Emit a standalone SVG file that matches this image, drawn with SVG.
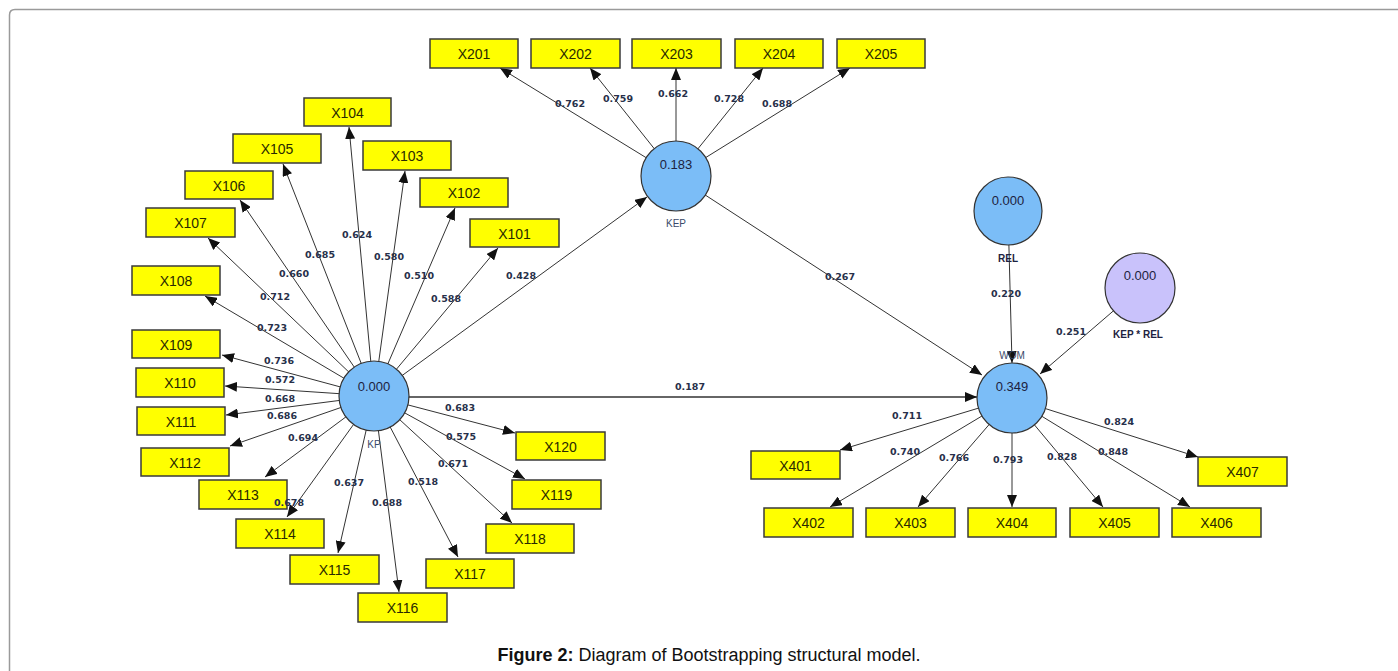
<svg xmlns="http://www.w3.org/2000/svg" width="1398" height="671" viewBox="0 0 1398 671">
<defs>
<marker id="ah" markerUnits="userSpaceOnUse" markerWidth="12" markerHeight="10" refX="12" refY="5" orient="auto">
<path d="M0,0 L12,5 L0,10 z" fill="#111"/>
</marker>
<style>
.box{fill:#ffff00;stroke:#3a3a3a;stroke-width:1.5}
.bt{font-family:"Liberation Sans",Arial,sans-serif;font-size:14px;fill:#2a2a00;text-anchor:middle}
.ln{stroke:#333;stroke-width:1;fill:none;marker-end:url(#ah)}
.lb{font-family:"DejaVu Sans","Liberation Sans",sans-serif;font-size:9.5px;font-weight:bold;fill:#27304a;text-anchor:middle}
.cir{fill:#7bbdf7;stroke:#333;stroke-width:1.2}
.cp{fill:#c9c2fb;stroke:#333;stroke-width:1.2}
.cv{font-family:"Liberation Sans",Arial,sans-serif;font-size:13px;fill:#1d2240;text-anchor:middle}
.cn{font-family:"Liberation Sans",Arial,sans-serif;font-size:10px;fill:#3a4a6a;text-anchor:middle}
.cnb{font-family:"Liberation Sans",Arial,sans-serif;font-size:10px;font-weight:bold;fill:#1d2240;text-anchor:middle}
</style>
</defs>
<rect width="1398" height="671" fill="#fff"/>
<path d="M9.5,671 L9.5,15 Q9.5,9.5 15,9.5 L1398,9.5" fill="none" stroke="#9a9a9a" stroke-width="1.5"/>

<g id="connectors">
<line class="ln" x1="374" y1="396" x2="349" y2="127"/>
<line class="ln" x1="374" y1="396" x2="283" y2="164"/>
<line class="ln" x1="374" y1="396" x2="405" y2="171"/>
<line class="ln" x1="374" y1="396" x2="240" y2="200"/>
<line class="ln" x1="374" y1="396" x2="455" y2="208"/>
<line class="ln" x1="374" y1="396" x2="208" y2="238"/>
<line class="ln" x1="374" y1="396" x2="498" y2="248"/>
<line class="ln" x1="374" y1="396" x2="205" y2="296"/>
<line class="ln" x1="374" y1="396" x2="222" y2="355"/>
<line class="ln" x1="374" y1="396" x2="225" y2="386"/>
<line class="ln" x1="374" y1="396" x2="226" y2="415"/>
<line class="ln" x1="374" y1="396" x2="230" y2="446"/>
<line class="ln" x1="374" y1="396" x2="265" y2="477"/>
<line class="ln" x1="374" y1="396" x2="287" y2="517"/>
<line class="ln" x1="374" y1="396" x2="338" y2="553"/>
<line class="ln" x1="374" y1="396" x2="399" y2="592"/>
<line class="ln" x1="374" y1="396" x2="458" y2="557"/>
<line class="ln" x1="374" y1="396" x2="512" y2="523"/>
<line class="ln" x1="374" y1="396" x2="525" y2="479"/>
<line class="ln" x1="374" y1="396" x2="515" y2="433"/>
<line class="ln" x1="676" y1="176" x2="500" y2="68"/>
<line class="ln" x1="676" y1="176" x2="590" y2="68"/>
<line class="ln" x1="676" y1="176" x2="676" y2="68"/>
<line class="ln" x1="676" y1="176" x2="763" y2="68"/>
<line class="ln" x1="676" y1="176" x2="850" y2="68"/>
<line class="ln" x1="374" y1="396" x2="647" y2="197"/>
<line class="ln" x1="676" y1="176" x2="982" y2="375"/>
<line class="ln" x1="374" y1="397" x2="977" y2="397" style="stroke-width:1.5"/>
<line class="ln" x1="1008" y1="211" x2="1012" y2="363"/>
<line class="ln" x1="1140" y1="288" x2="1040" y2="374"/>
<line class="ln" x1="1012" y1="398" x2="840" y2="450"/>
<line class="ln" x1="1012" y1="398" x2="830" y2="507"/>
<line class="ln" x1="1012" y1="398" x2="918" y2="507"/>
<line class="ln" x1="1012" y1="398" x2="1012" y2="507"/>
<line class="ln" x1="1012" y1="398" x2="1103" y2="507"/>
<line class="ln" x1="1012" y1="398" x2="1190" y2="507"/>
<line class="ln" x1="1012" y1="398" x2="1198" y2="457"/>
</g>

<g id="KP"><circle class="cir" cx="374" cy="396" r="35"/><text class="cv" x="374" y="391">0.000</text><text class="cn" x="374" y="448">KP</text></g>
<g id="KEP"><circle class="cir" cx="676" cy="176" r="35"/><text class="cv" x="676" y="169">0.183</text><text class="cn" x="676" y="227">KEP</text></g>
<g id="WOM"><circle class="cir" cx="1012" cy="398" r="35"/><text class="cv" x="1012" y="391">0.349</text><text class="cn" x="1012" y="359">WOM</text></g>
<g id="REL"><circle class="cir" cx="1008" cy="211" r="34"/><text class="cv" x="1008" y="205">0.000</text><text class="cnb" x="1008" y="262">REL</text></g>
<g id="KEPxREL"><circle class="cp" cx="1140" cy="288" r="35"/><text class="cv" x="1140" y="280">0.000</text><text class="cnb" x="1138" y="338">KEP * REL</text></g>

<g id="X101"><rect class="box" x="470" y="219" width="89" height="28"/><text class="bt" x="514.5" y="239">X101</text></g>
<g id="X102"><rect class="box" x="420" y="178" width="88" height="29"/><text class="bt" x="464" y="198">X102</text></g>
<g id="X103"><rect class="box" x="363" y="141" width="88" height="29"/><text class="bt" x="407" y="161">X103</text></g>
<g id="X104"><rect class="box" x="304" y="98" width="87" height="28"/><text class="bt" x="347.5" y="118">X104</text></g>
<g id="X105"><rect class="box" x="233" y="134" width="88" height="29"/><text class="bt" x="277" y="154">X105</text></g>
<g id="X106"><rect class="box" x="185" y="171" width="88" height="28"/><text class="bt" x="229" y="191">X106</text></g>
<g id="X107"><rect class="box" x="146" y="208" width="89" height="29"/><text class="bt" x="190.5" y="228">X107</text></g>
<g id="X108"><rect class="box" x="132" y="266" width="88" height="29"/><text class="bt" x="176" y="286">X108</text></g>
<g id="X109"><rect class="box" x="132" y="330" width="88" height="28"/><text class="bt" x="176" y="350">X109</text></g>
<g id="X110"><rect class="box" x="136" y="368" width="88" height="29"/><text class="bt" x="180" y="388">X110</text></g>
<g id="X111"><rect class="box" x="137" y="407" width="88" height="28"/><text class="bt" x="181" y="427">X111</text></g>
<g id="X112"><rect class="box" x="141" y="448" width="88" height="28"/><text class="bt" x="185" y="468">X112</text></g>
<g id="X113"><rect class="box" x="199" y="480" width="88" height="29"/><text class="bt" x="243" y="500">X113</text></g>
<g id="X114"><rect class="box" x="236" y="519" width="88" height="29"/><text class="bt" x="280" y="539">X114</text></g>
<g id="X115"><rect class="box" x="290" y="555" width="89" height="29"/><text class="bt" x="334.5" y="575">X115</text></g>
<g id="X116"><rect class="box" x="358" y="593" width="89" height="29"/><text class="bt" x="402.5" y="613">X116</text></g>
<g id="X117"><rect class="box" x="426" y="559" width="88" height="29"/><text class="bt" x="470" y="579">X117</text></g>
<g id="X118"><rect class="box" x="486" y="524" width="88" height="29"/><text class="bt" x="530" y="544">X118</text></g>
<g id="X119"><rect class="box" x="512" y="480" width="89" height="29"/><text class="bt" x="556.5" y="500">X119</text></g>
<g id="X120"><rect class="box" x="516" y="432" width="89" height="28"/><text class="bt" x="560.5" y="452">X120</text></g>

<g id="X201"><rect class="box" x="430" y="39" width="88" height="29"/><text class="bt" x="474" y="59">X201</text></g>
<g id="X202"><rect class="box" x="531" y="39" width="89" height="29"/><text class="bt" x="575.5" y="59">X202</text></g>
<g id="X203"><rect class="box" x="632" y="39" width="89" height="29"/><text class="bt" x="676.5" y="59">X203</text></g>
<g id="X204"><rect class="box" x="735" y="39" width="88" height="29"/><text class="bt" x="779" y="59">X204</text></g>
<g id="X205"><rect class="box" x="837" y="39" width="88" height="29"/><text class="bt" x="881" y="59">X205</text></g>

<g id="X401"><rect class="box" x="751" y="451" width="89" height="28"/><text class="bt" x="795.5" y="471">X401</text></g>
<g id="X402"><rect class="box" x="764" y="508" width="89" height="29"/><text class="bt" x="808.5" y="528">X402</text></g>
<g id="X403"><rect class="box" x="866" y="508" width="89" height="29"/><text class="bt" x="910.5" y="528">X403</text></g>
<g id="X404"><rect class="box" x="968" y="508" width="88" height="29"/><text class="bt" x="1012" y="528">X404</text></g>
<g id="X405"><rect class="box" x="1070" y="508" width="89" height="29"/><text class="bt" x="1114.5" y="528">X405</text></g>
<g id="X406"><rect class="box" x="1172" y="508" width="89" height="29"/><text class="bt" x="1216.5" y="528">X406</text></g>
<g id="X407"><rect class="box" x="1198" y="457" width="89" height="29"/><text class="bt" x="1242.5" y="477">X407</text></g>

<g id="edge-labels">
<text class="lb" x="357" y="238">0.624</text>
<text class="lb" x="320" y="258">0.685</text>
<text class="lb" x="389" y="260">0.580</text>
<text class="lb" x="294" y="277">0.660</text>
<text class="lb" x="419" y="279">0.510</text>
<text class="lb" x="521" y="279">0.428</text>
<text class="lb" x="275" y="300">0.712</text>
<text class="lb" x="446" y="302">0.588</text>
<text class="lb" x="272" y="331">0.723</text>
<text class="lb" x="279" y="364">0.736</text>
<text class="lb" x="280" y="383">0.572</text>
<text class="lb" x="280" y="402">0.668</text>
<text class="lb" x="282" y="419">0.686</text>
<text class="lb" x="303" y="441">0.694</text>
<text class="lb" x="289" y="506">0.678</text>
<text class="lb" x="349" y="486">0.637</text>
<text class="lb" x="387" y="506">0.688</text>
<text class="lb" x="423" y="485">0.518</text>
<text class="lb" x="453" y="467">0.671</text>
<text class="lb" x="461" y="440">0.575</text>
<text class="lb" x="460" y="411">0.683</text>
<text class="lb" x="570" y="107">0.762</text>
<text class="lb" x="618" y="102">0.759</text>
<text class="lb" x="673" y="97">0.662</text>
<text class="lb" x="729" y="102">0.728</text>
<text class="lb" x="777" y="107">0.688</text>
<text class="lb" x="690" y="390">0.187</text>
<text class="lb" x="840" y="280">0.267</text>
<text class="lb" x="1006" y="297">0.220</text>
<text class="lb" x="1071" y="335">0.251</text>
<text class="lb" x="907" y="419">0.711</text>
<text class="lb" x="1119" y="425">0.824</text>
<text class="lb" x="905" y="455">0.740</text>
<text class="lb" x="954" y="461">0.766</text>
<text class="lb" x="1008" y="463">0.793</text>
<text class="lb" x="1062" y="460">0.828</text>
<text class="lb" x="1113" y="455">0.848</text>
</g>

<text x="709" y="661" text-anchor="middle" font-family="'Liberation Sans',Arial,sans-serif" font-size="18" fill="#111"><tspan font-weight="bold">Figure 2:</tspan> Diagram of Bootstrapping structural model.</text>
</svg>
